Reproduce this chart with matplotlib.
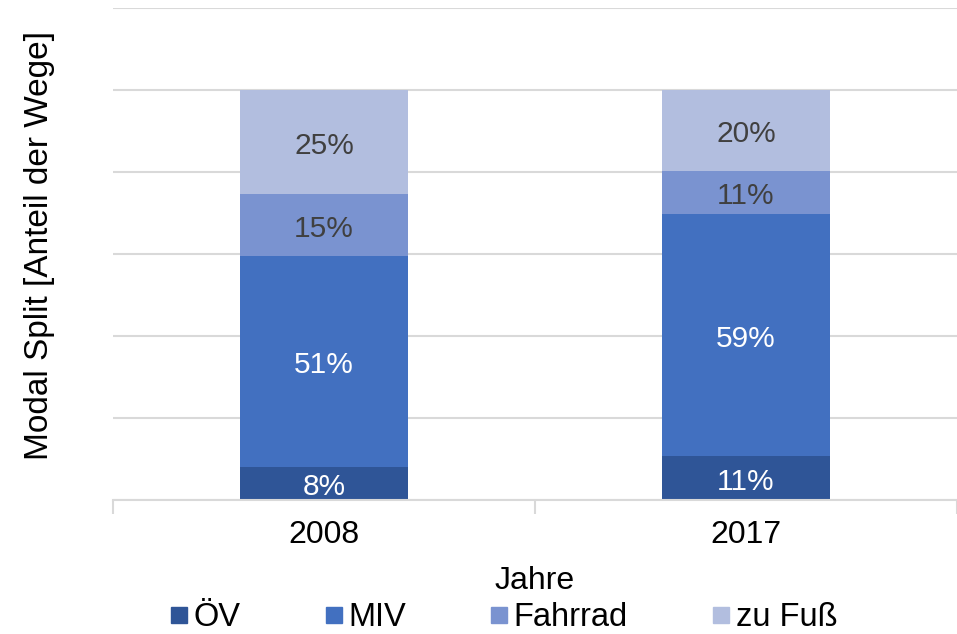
import numpy as np
import matplotlib
matplotlib.use("Agg")
from matplotlib import pyplot as plt
from matplotlib.lines import Line2D

plt.rcParams['font.family'] = ['Liberation Sans', 'DejaVu Sans']

# data
years = ["2008", "2017"]
modes = ["ÖV", "MIV", "Fahrrad", "zu Fuß"]
oev = [8.1, 10.7]
miv = [51.4, 59.0]
fahrrad = [15.1, 10.6]
zu_fuss = [25.4, 19.7]

colors = ["#2f5597", "#4270c0", "#7a93d0", "#b2bedf"]
label_colors = ["white", "white", "#404040", "#404040"]

fig = plt.figure(figsize=(9.57, 6.34), dpi=100)
ax = fig.add_axes([0.118, 0.211, 0.882, 0.776])

x = np.arange(len(years))
bottom = np.zeros(len(years))
for vals, col, tcol, name in zip([oev, miv, fahrrad, zu_fuss], colors, label_colors, modes):
    vals = np.array(vals)
    ax.bar(x, vals, 0.4, bottom=bottom, color=col, label=name, zorder=3)
    for xi, b, v in zip(x, bottom, vals):
        ax.text(xi, b + v / 2 - 0.8, "%d%%" % round(v), ha="center", va="center",
                color=tcol, fontsize=21.5, zorder=4)
    bottom += vals

ax.set_xlim(-0.5, 1.5)
ax.set_ylim(0, 120)
ax.set_yticks(np.arange(0, 121, 20))
ax.set_yticklabels([])
ax.tick_params(axis="y", length=0)
ax.grid(axis="y", color="#d9d9d9", linewidth=1.5, zorder=0)

# category ticks between bars
ax.set_xticks(x)
ax.set_xticklabels(years, fontsize=23)
ax.set_xticks([-0.5, 0.5, 1.5], minor=True)
ax.tick_params(axis="x", which="major", length=0, pad=14)
ax.tick_params(axis="x", which="minor", length=10, width=1.5, color="#d9d9d9")

for s in ["top", "right", "left"]:
    ax.spines[s].set_visible(False)
ax.spines["bottom"].set_color("#d9d9d9")
ax.spines["bottom"].set_linewidth(1.5)
ax.spines["bottom"].set_zorder(5)

ax.set_xlabel("Jahre", fontsize=23, labelpad=12)
ax.set_ylabel("Modal Split [Anteil der Wege]", fontsize=24)
ax.yaxis.set_label_coords(-0.069, 0.518)

handles = [Line2D([], [], marker="s", linestyle="", markersize=12, color=c) for c in colors]
fig.legend(handles, modes, loc="lower center", bbox_to_anchor=(0.525, -0.045), ncol=4,
           frameon=False, fontsize=23.5, handletextpad=0.1, columnspacing=2.5,
           handlelength=0.7)

fig.savefig("out.png", dpi=100)
